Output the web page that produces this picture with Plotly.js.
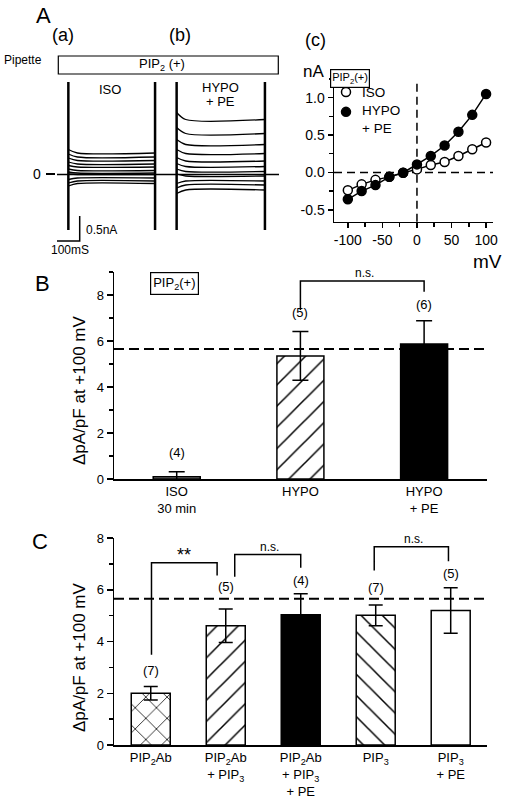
<!DOCTYPE html>
<html><head><meta charset="utf-8">
<script src="https://cdn.plot.ly/plotly-3.0.1.min.js"></script>
<style>html,body{margin:0;padding:0;background:#fff}#chart{width:505px;height:799px}</style>
</head><body><div id="chart"></div>
<script>
// ---------- DATA ----------
// Panel A (a,b): whole-cell current traces (nA), steady state and onset values per step
const stepLevelsISO  = [0.43, 0.35, 0.28, 0.21, 0.15, 0.08, 0.03, 0.00, -0.07, -0.13, -0.18];
const onsetISO       = [0.50, 0.41, 0.33, 0.25, 0.18, 0.11, 0.05, 0.01, -0.10, -0.17, -0.23];
const stepLevelsHYPO = [1.10, 0.82, 0.60, 0.42, 0.27, 0.16, 0.06, -0.03, -0.13, -0.21, -0.31];
const onsetHYPO      = [1.24, 0.94, 0.70, 0.50, 0.34, 0.22, 0.11, 0.01, -0.18, -0.27, -0.38];
const isoPulse  = [50, 432];   // ms
const hypoPulse = [527, 916];  // ms
const sweepEnd  = 978;         // ms
const transientPeaks = [-1.11, 1.85]; // nA (clipped capacitive transients)
const scaleBarTime = 100;      // ms
const scaleBarCurrent = 0.5;   // nA

// Panel A (c): I-V relation
const voltages = [-100, -80, -60, -40, -20, 0, 20, 40, 60, 80, 100];
const ivISO    = [-0.24, -0.16, -0.10, -0.06, -0.005, 0.04, 0.10, 0.14, 0.22, 0.31, 0.40];
const ivHYPO   = [-0.36, -0.25, -0.17, -0.06, -0.005, 0.107, 0.22, 0.36, 0.545, 0.77, 1.05];
const ivNames  = ['ISO', 'HYPO<br>+ PE'];

// Panel B
const catB  = ['ISO<br>30 min', 'HYPO', 'HYPO<br>+ PE'];
const valB  = [0.10, 5.35, 5.87];
const errB  = [0.22, 1.06, 1.01];
const nB    = ['(4)', '(5)', '(6)'];

// Panel C
const catC = ['PIP<sub>2</sub>Ab', 'PIP<sub>2</sub>Ab<br>+ PIP<sub>3</sub>', 'PIP<sub>2</sub>Ab<br>+ PIP<sub>3</sub><br>+ PE', 'PIP<sub>3</sub>', 'PIP<sub>3</sub><br>+ PE'];
const valC = [2.00, 4.61, 5.03, 5.01, 5.20];
const errC = [0.26, 0.65, 0.82, 0.40, 0.88];
const nC   = ['(7)', '(5)', '(4)', '(7)', '(5)'];

const refLevel = 5.65; // dashed reference line (pA/pF)

// ---------- STYLE / LAYOUT HELPERS ----------
const F = 'Arial, "Liberation Sans", sans-serif';
const W = 505, H = 799;
const px = v => v / W;
const py = v => 1 - v / H;

const traces = [];

// Traces (a,b)
function stepTrace(levels, onsets, pulse) {
  const x = [], y = [];
  levels.forEach((lv, i) => {
    x.push(pulse[0], pulse[0] + 40, pulse[1], null);
    y.push(onsets[i], lv, lv, null);
  });
  return {x, y, xaxis: 'x', yaxis: 'y', mode: 'lines', showlegend: false,
    line: {color: 'black', width: 1.3, shape: 'spline', smoothing: 0.8}, hoverinfo: 'skip'};
}
traces.push({x: [0, sweepEnd], y: [0, 0], xaxis: 'x', yaxis: 'y', mode: 'lines', showlegend: false,
  line: {color: 'black', width: 1.5}, hoverinfo: 'skip'});
traces.push(stepTrace(stepLevelsISO, onsetISO, isoPulse));
traces.push(stepTrace(stepLevelsHYPO, onsetHYPO, hypoPulse));
{
  const x = [], y = [];
  [isoPulse[0], isoPulse[1], hypoPulse[0], hypoPulse[1]].forEach(t => {
    x.push(t, t, null); y.push(transientPeaks[0], transientPeaks[1], null);
  });
  traces.push({x, y, xaxis: 'x', yaxis: 'y', mode: 'lines', showlegend: false,
    line: {color: 'black', width: 2.5}, hoverinfo: 'skip'});
}
// scale bar
const sbY = -1.33;
traces.push({x: [0, scaleBarTime, scaleBarTime], y: [sbY, sbY, sbY + scaleBarCurrent],
  xaxis: 'x', yaxis: 'y', mode: 'lines', showlegend: false, line: {color: 'black', width: 1.5}, hoverinfo: 'skip'});

// I-V
const openM = {symbol: 'circle', size: 9, color: 'white', line: {color: 'black', width: 1.5}};
const fillM = {symbol: 'circle', size: 9, color: 'black', line: {color: 'black', width: 1.5}};
traces.push({x: voltages, y: ivISO, xaxis: 'x2', yaxis: 'y2', mode: 'lines+markers', showlegend: false,
  line: {color: 'black', width: 1.5}, marker: openM});
traces.push({x: voltages, y: ivHYPO, xaxis: 'x2', yaxis: 'y2', mode: 'lines+markers', showlegend: false,
  line: {color: 'black', width: 1.5}, marker: fillM});
traces.push({x: [null], y: [null], xaxis: 'x2', yaxis: 'y2', mode: 'markers', name: '\u00a0', showlegend: true, marker: openM});
traces.push({x: [null], y: [null], xaxis: 'x2', yaxis: 'y2', mode: 'markers', name: '\u00a0', showlegend: true, marker: fillM});

// Bars: one trace per bar so each gets its own fill / hatch
function barTrace(xa, ya, i, val, err, width, fill, shape, capw, hsize) {
  const m = {color: fill, line: {color: 'black', width: 1.5}};
  if (shape) m.pattern = {shape, fgcolor: 'black', bgcolor: 'white', size: hsize, solidity: 0.1, fillmode: 'replace'};
  return {type: 'bar', x: [i], y: [val], xaxis: xa, yaxis: ya, width, showlegend: false, marker: m,
    error_y: {type: 'data', array: [err], visible: true, color: 'black', thickness: 1.5, width: capw}};
}
const fillsB = ['#8a8a8a', 'white', 'black'], shapesB = ['', '/', ''];
valB.forEach((v, i) => traces.push(barTrace('x3', 'y3', i, v, errB[i], 0.38, fillsB[i], shapesB[i], 8, 15)));
const fillsC = ['white', 'white', 'black', 'white', 'white'], shapesC = ['x', '/', '', '\\', ''];
valC.forEach((v, i) => traces.push(barTrace('x4', 'y4', i, v, errC[i], 0.52, fillsC[i], shapesC[i], 7, 15)));

const axBase = {showline: true, linecolor: 'black', linewidth: 1.5, mirror: false, zeroline: false, showgrid: false,
  tickfont: {family: F, size: 13, color: 'black'}, tickcolor: 'black', tickwidth: 1.5};

const layout = {
  width: W, height: H, margin: {l: 0, r: 0, t: 0, b: 0}, paper_bgcolor: 'white', plot_bgcolor: 'white',
  font: {family: F, color: 'black'}, barmode: 'overlay',
  showlegend: true,
  legend: {x: px(326), y: py(77), xanchor: 'left', yanchor: 'top', bgcolor: 'rgba(0,0,0,0)',
    font: {family: F, size: 13, color: 'black'}, itemwidth: 30, tracegroupgap: 0},
  xaxis: {domain: [px(57), px(279)], range: [0, sweepEnd], visible: false, anchor: 'y'},
  yaxis: {domain: [py(255), py(80)], range: [(174.5 - 255) / 50, (174.5 - 80) / 50], visible: false, anchor: 'x'},
  xaxis2: Object.assign({}, axBase, {domain: [px(334), px(493)], range: [-120, 110], anchor: 'y2',
    tickmode: 'array', tickvals: [-100, -50, 0, 50, 100], ticktext: ['-100', '-50', '0', '50', '100'],
    ticks: 'outside', ticklen: 5, tickfont: {family: F, size: 14, color: 'black'},
    minor: {tickmode: 'linear', tick0: 0, dtick: 25, ticks: 'outside', ticklen: 4, tickwidth: 1.5, tickcolor: 'black'}}),
  yaxis2: Object.assign({}, axBase, {domain: [py(221.7), py(79)], range: [-0.66, 1.25], anchor: 'x2',
    tickmode: 'array', tickvals: [-0.5, 0, 0.5, 1.0], ticktext: ['-0.5', '0.0', '0.5', '1.0'],
    ticks: 'outside', ticklen: 5, tickfont: {family: F, size: 14, color: 'black'},
    minor: {tickmode: 'linear', tick0: 0, dtick: 0.25, ticks: 'outside', ticklen: 4, tickwidth: 1.5, tickcolor: 'black'}}),
  xaxis3: Object.assign({}, axBase, {domain: [px(114), px(486.7)], range: [-0.507, 2.506], anchor: 'y3',
    tickmode: 'array', tickvals: catB.map((c, i) => i), ticktext: catB, ticks: ''}),
  yaxis3: Object.assign({}, axBase, {domain: [py(479), py(272)], range: [0, 9], anchor: 'x3',
    tickmode: 'array', tickvals: [0, 2, 4, 6, 8], ticks: 'outside', ticklen: 6,
    minor: {tickmode: 'linear', tick0: 0, dtick: 1, ticks: 'outside', ticklen: 4, tickwidth: 1.5, tickcolor: 'black'}}),
  xaxis4: Object.assign({}, axBase, {domain: [px(114), px(486.7)], range: [-0.49, 4.48], anchor: 'y4',
    tickmode: 'array', tickvals: catC.map((c, i) => i), ticktext: catC, ticks: ''}),
  yaxis4: Object.assign({}, axBase, {domain: [py(745), py(538)], range: [0, 8], anchor: 'x4',
    tickmode: 'array', tickvals: [0, 2, 4, 6, 8], ticks: 'outside', ticklen: 6,
    minor: {tickmode: 'linear', tick0: 0, dtick: 1, ticks: 'outside', ticklen: 4, tickwidth: 1.5, tickcolor: 'black'}}),
  shapes: [],
  annotations: []
};

const S = layout.shapes, A = layout.annotations;
function txt(text, x, y, size, extra) {
  A.push(Object.assign({text, x: px(x), y: py(y), xref: 'paper', yref: 'paper', showarrow: false,
    font: {family: F, size, color: 'black'}, xanchor: 'center', yanchor: 'middle'}, extra || {}));
}
// Panel A labels
txt('A', 43, 16, 22);
txt('(a)', 63, 35, 18);
txt('(b)', 180, 35, 18);
txt('Pipette', 23, 60, 12);
S.push({type: 'rect', xref: 'paper', yref: 'paper', x0: px(58.3), x1: px(278.3), y0: py(74), y1: py(56),
  line: {color: 'black', width: 1.2}});
txt('PIP<sub>2</sub> (+)', 162, 65, 13);
txt('ISO', 110, 89, 13);
txt('HYPO', 220, 88, 13);
txt('+ PE', 220, 101, 13);
txt('0', 37, 174, 14);
S.push({type: 'line', xref: 'paper', yref: 'paper', x0: px(46), x1: px(55), y0: py(174), y1: py(174),
  line: {color: 'black', width: 2}});
txt('0.5nA', 84, 230, 12, {xanchor: 'left'});
txt('100mS', 70, 250, 12);

// I-V labels
txt('(c)', 315, 40, 18);
txt('nA', 313, 72, 17);
txt('mV', 487, 261, 19);
A.push({text: 'PIP<sub>2</sub>(+)', x: px(370), y: py(69), xref: 'paper', yref: 'paper', showarrow: false,
  font: {family: F, size: 11, color: 'black'}, bordercolor: 'black', borderwidth: 1.2, borderpad: 1, bgcolor: 'white'});
txt(ivNames[0], 360, 93, 13.5, {xanchor: 'left'});
txt(ivNames[1], 360, 119, 13.5, {xanchor: 'left', align: 'left'});
S.push({type: 'line', xref: 'x2', yref: 'y2 domain', x0: 0, x1: 0, y0: 0, y1: 1,
  line: {color: 'black', width: 1.5, dash: '8px,5px'}, layer: 'below'});
S.push({type: 'line', xref: 'x2 domain', yref: 'y2', x0: 0, x1: 1, y0: 0, y1: 0,
  line: {color: 'black', width: 1.5, dash: '8px,5px'}, layer: 'below'});

// Panel B
txt('B', 42, 283, 22);
A.push({text: 'PIP<sub>2</sub>(+)', x: px(150), y: py(283.5), xref: 'paper', yref: 'paper', showarrow: false,
  font: {family: F, size: 13, color: 'black'}, bordercolor: 'black', borderwidth: 1.2, borderpad: 2, bgcolor: 'white'});
txt('ΔpA/pF at +100 mV', 79, 390, 17, {textangle: -90});
S.push({type: 'line', xref: 'x3 domain', yref: 'y3', x0: 0, x1: 1, y0: refLevel, y1: refLevel,
  line: {color: 'black', width: 2, dash: '10px,5px'}});
const nShiftB = [19, 19, 16];
nB.forEach((t, i) => A.push({text: t, x: i, y: valB[i] + errB[i], xref: 'x3', yref: 'y3', yshift: nShiftB[i],
  showarrow: false, font: {family: F, size: 13, color: 'black'}}));
function bracket(xr, yr, xl, xrr, ytop, yl, yrr) {
  S.push({type: 'path', xref: xr, yref: yr, path: `M ${xl},${yl} L ${xl},${ytop} L ${xrr},${ytop} L ${xrr},${yrr}`,
    line: {color: 'black', width: 1.5}});
}
bracket('x3', 'y3', 1.0, 2.0, 8.61, 7.35, 8.14);
A.push({text: 'n.s.', x: 1.52, y: 8.61, xref: 'x3', yref: 'y3', yshift: 8, showarrow: false,
  font: {family: F, size: 12, color: 'black'}});

// Panel C
txt('C', 40, 541, 22);
txt('ΔpA/pF at +100 mV', 79, 657, 17, {textangle: -90});
S.push({type: 'line', xref: 'x4 domain', yref: 'y4', x0: 0, x1: 1, y0: refLevel, y1: refLevel,
  line: {color: 'black', width: 2, dash: '10px,5px'}});
const nShiftC = [16, 22, 13, 18, 14];
nC.forEach((t, i) => A.push({text: t, x: i, y: valC[i] + errC[i], xref: 'x4', yref: 'y4', yshift: nShiftC[i],
  showarrow: false, font: {family: F, size: 13, color: 'black'}}));
bracket('x4', 'y4', 0.01, 0.885, 7.04, 3.49, 6.55);
A.push({text: '**', x: 0.45, y: 7.04, xref: 'x4', yref: 'y4', yshift: 8, showarrow: false,
  font: {family: F, size: 18, color: 'black'}});
bracket('x4', 'y4', 1.12, 2.0, 7.36, 6.5, 6.85);
A.push({text: 'n.s.', x: 1.59, y: 7.36, xref: 'x4', yref: 'y4', yshift: 8, showarrow: false,
  font: {family: F, size: 12, color: 'black'}});
bracket('x4', 'y4', 2.98, 3.97, 7.66, 6.74, 7.1);
A.push({text: 'n.s.', x: 3.51, y: 7.66, xref: 'x4', yref: 'y4', yshift: 8, showarrow: false,
  font: {family: F, size: 12, color: 'black'}});

Plotly.newPlot('chart', traces, layout, {staticPlot: true, displayModeBar: false});
</script></body></html>
